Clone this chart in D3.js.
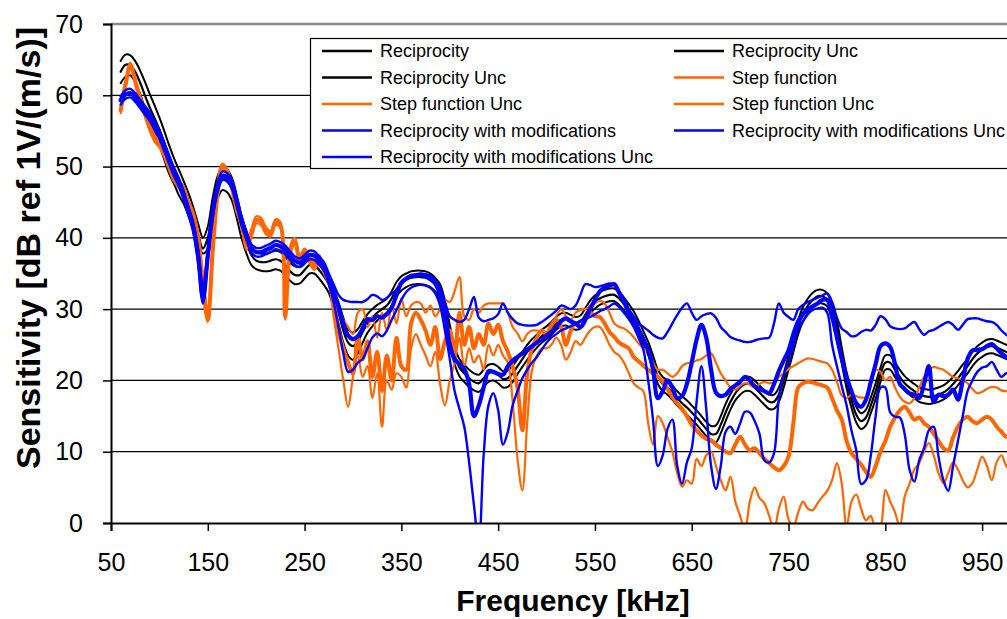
<!DOCTYPE html>
<html><head><meta charset="utf-8">
<script src="https://cdn.jsdelivr.net/npm/d3@7"></script>
<style>body{margin:0;background:#fff}svg{display:block}</style>
</head><body>
<svg id="chart" width="1007" height="619"></svg>
<script>
// Frequency grid (kHz)
const freq = [
 60,65,70,75,80,85,90,95,100,105,110,115,120,125,130,135,140,145,150,155,
 160,165,170,175,180,185,190,195,200,205,210,215,220,225,230,235,240,245,250,255,
 260,265,270,275,280,285,290,295,300,305,310,315,320,325,330,335,340,345,350,355,
 360,365,370,375,380,385,390,395,400,405,410,415,420,425,430,435,440,445,450,455,
 460,465,470,475,480,485,490,495,500,505,510,515,520,525,530,535,540,545,550,555,
 560,565,570,575,580,585,590,595,600,605,610,615,620,625,630,635,640,645,650,655,
 660,665,670,675,680,685,690,695,700,705,710,715,720,725,730,735,740,745,750,755,
 760,765,770,775,780,785,790,795,800,805,810,815,820,825,830,835,840,845,850,855,
 860,865,870,875,880,885,890,895,900,905,910,915,920,925,930,935,940,945,950,955,
 960,965,970,975,980,985,990,995,1000];

const reciprocity = [
 63.3,64.3,64.2,63.3,61.8,60.0,58.3,56.8,55.2,53.3,51.3,49.6,48.0,46.5,44.8,42.8,40.5,38.5,40.0,44.0,
 47.0,48.3,48.0,46.8,44.3,41.5,39.3,37.6,36.8,36.6,36.6,36.8,37.0,36.8,36.2,35.3,34.8,34.8,35.5,36.2,
 36.2,35.5,34.6,33.5,31.5,29.5,27.0,25.3,24.8,25.5,26.8,28.0,28.8,29.5,30.0,30.5,31.5,32.8,33.6,34.1,
 34.4,34.5,34.5,34.4,34.1,33.5,32.5,30.0,26.5,23.5,21.8,21.0,20.3,19.8,19.6,20.3,21.0,21.2,20.8,20.2,
 20.3,21.0,22.0,23.0,24.0,24.8,25.5,26.2,26.7,27.3,28.0,28.5,28.6,28.3,28.0,28.2,29.2,30.3,31.0,31.5,
 31.8,32.0,32.0,31.5,30.7,29.8,28.8,27.5,26.0,24.5,22.5,20.5,19.5,19.0,18.3,17.5,16.8,16.2,15.5,14.8,
 14.0,13.2,12.5,12.5,13.8,15.5,17.0,18.2,19.0,19.5,19.5,19.0,18.3,17.6,17.0,17.0,18.0,20.0,22.5,25.0,
 27.5,29.3,30.5,31.3,31.8,31.8,31.3,29.5,27.3,23.5,20.0,17.3,15.2,14.3,14.8,16.5,18.5,20.8,22.5,22.5,
 21.5,20.5,19.6,19.0,18.5,18.0,17.8,17.7,17.8,18.0,18.3,18.8,19.5,20.3,21.2,22.0,23.0,23.8,24.3,24.7,
 24.8,24.6,24.3,24.0,23.8,23.7,23.6,23.6,23.6];

const reciprocityUncHi = [
 64.8,65.7,65.6,64.8,63.5,61.9,60.2,58.6,56.9,55.0,53.0,51.2,49.6,48.0,46.3,44.3,42.0,40.0,41.6,45.6,
 48.6,49.9,49.6,48.4,45.9,43.1,40.8,39.0,38.0,37.8,37.8,38.0,38.2,38.0,37.4,36.5,36.0,36.0,36.7,37.4,
 37.4,36.7,35.8,34.7,32.8,31.0,28.8,27.2,26.7,27.2,28.3,29.3,30.0,30.6,31.0,31.5,32.5,33.8,34.6,35.0,
 35.3,35.4,35.4,35.3,35.0,34.4,33.5,31.2,27.8,24.7,23.0,22.2,21.5,21.0,20.8,21.5,22.2,22.3,21.9,21.3,
 21.4,22.1,23.0,24.0,25.0,25.8,26.4,27.1,27.6,28.2,28.9,29.4,29.5,29.2,28.9,29.1,30.1,31.2,31.9,32.4,
 32.7,32.9,32.9,32.4,31.6,30.7,29.7,28.4,26.9,25.4,23.5,21.5,20.5,20.0,19.3,18.5,17.8,17.2,16.5,15.8,
 15.0,14.2,13.6,13.7,15.0,16.7,18.1,19.2,20.0,20.5,20.5,20.0,19.3,18.6,18.0,18.0,19.0,21.0,23.5,26.0,
 28.5,30.3,31.5,32.3,32.7,32.7,32.2,30.5,28.3,24.6,21.1,18.4,16.3,15.4,15.9,17.6,19.6,21.8,23.5,23.5,
 22.5,21.5,20.6,20.0,19.5,19.0,18.8,18.7,18.8,19.0,19.3,19.8,20.5,21.3,22.2,23.0,24.0,24.8,25.3,25.7,
 25.8,25.6,25.3,25.0,24.8,24.7,24.6,24.6,24.6];

const reciprocityUncLo = [
 61.7,62.6,62.8,61.8,60.2,58.2,56.4,54.8,53.0,51.0,49.0,47.6,46.0,44.8,43.1,41.3,39.5,37.8,38.5,42.3,
 45.4,46.7,46.4,45.2,42.7,39.9,37.8,36.2,35.6,35.4,35.3,35.4,35.6,35.4,34.8,34.0,33.5,33.6,34.3,35.0,
 35.0,34.3,33.4,32.3,30.2,28.0,25.3,23.5,22.9,23.8,25.3,26.7,27.6,28.4,29.0,29.5,30.5,31.8,32.6,33.1,
 33.4,33.5,33.5,33.4,33.1,32.5,31.4,28.8,25.2,22.3,20.6,19.8,19.1,18.6,18.4,19.1,19.8,20.0,19.6,19.0,
 19.1,19.8,20.9,21.9,22.9,23.8,24.6,25.3,25.8,26.4,27.1,27.6,27.7,27.4,27.1,27.3,28.3,29.4,30.1,30.6,
 30.9,31.1,31.1,30.6,29.8,28.9,27.9,26.6,25.1,23.6,21.5,19.5,18.5,18.0,17.3,16.5,15.8,15.2,14.5,13.8,
 13.0,12.2,11.4,11.3,12.6,14.3,15.9,17.2,18.0,18.5,18.5,18.0,17.3,16.6,16.0,16.0,17.0,19.0,21.5,24.0,
 26.5,28.3,29.5,30.3,30.8,30.8,30.4,28.5,26.3,22.4,18.9,16.2,14.1,13.2,13.7,15.4,17.4,19.8,21.5,21.5,
 20.5,19.5,18.6,18.0,17.5,17.0,16.8,16.7,16.8,17.0,17.3,17.8,18.5,19.3,20.2,21.0,22.0,22.8,23.3,23.7,
 23.8,23.6,23.3,23.0,22.8,22.7,22.6,22.6,22.6];

const stepFunction = [
 57.9,61.5,64.3,62.0,59.5,57.5,55.5,54.0,53.2,51.8,50.0,48.4,47.5,46.8,44.8,43.2,40.0,33.5,28.5,38.0,
 46.0,50.0,49.3,47.0,44.0,42.0,39.0,40.5,42.5,42.3,41.0,40.6,42.2,41.8,29.0,38.0,39.5,37.0,38.0,37.0,
 36.0,37.2,35.5,34.0,31.5,27.0,24.5,22.5,21.0,26.0,23.0,25.5,20.5,24.0,18.5,23.5,20.0,26.0,22.0,21.5,
 28.0,29.5,28.5,27.0,25.0,27.5,23.0,25.5,27.0,24.0,29.5,25.0,27.5,24.5,26.5,25.0,28.0,26.5,27.8,25.5,
 24.0,22.0,19.0,13.0,21.0,24.5,26.0,27.0,26.5,27.8,28.5,27.5,25.0,27.0,28.0,27.5,28.5,29.5,29.0,28.9,
 28.0,26.8,26.1,25.3,24.9,24.5,23.3,22.7,22.1,21.5,21.0,20.5,19.8,18.8,17.7,16.8,16.0,15.0,13.8,13.0,
 12.3,11.8,11.6,11.0,10.5,10.0,9.8,11.0,12.1,11.0,10.2,10.5,9.8,9.0,8.4,7.8,7.4,8.0,9.3,14.0,
 19.0,19.6,19.8,19.7,19.5,19.3,19.0,17.5,15.8,14.5,11.5,9.8,9.0,8.2,7.2,6.5,8.0,10.0,11.5,13.5,
 14.8,15.8,16.3,15.5,14.5,14.8,14.0,13.5,12.5,11.5,10.5,10.2,12.0,13.5,14.5,14.9,14.3,14.0,14.5,14.9,
 14.5,13.5,12.8,12.1,12.5,13.0,12.5,12.0,12.3];

const stepUncHi = [
 58.3,62.0,64.6,62.4,60.0,58.0,56.0,54.5,53.7,52.3,50.5,48.9,48.0,47.3,45.3,43.7,40.5,34.5,30.0,38.8,
 46.5,50.4,49.7,47.5,44.5,42.5,39.8,41.2,43.0,42.8,41.5,41.0,42.6,42.2,30.5,38.8,40.0,37.5,38.5,37.5,
 36.5,37.6,36.0,34.5,32.5,30.0,28.5,27.5,26.5,29.5,30.0,27.5,29.0,26.0,29.5,27.0,30.5,28.0,31.5,29.0,
 30.5,31.0,30.8,29.5,30.5,29.0,30.0,31.3,31.0,32.5,34.5,29.0,28.5,30.0,29.5,30.5,30.8,30.8,30.8,30.8,
 29.5,27.5,26.6,25.5,26.5,27.0,27.0,26.8,26.6,27.5,29.0,30.0,29.0,28.5,29.5,29.9,30.0,30.5,30.8,31.2,
 30.8,29.5,28.0,27.5,27.3,26.8,26.1,25.2,24.5,24.0,22.5,21.5,21.5,21.0,20.5,21.0,22.0,22.4,22.5,22.8,
 23.0,23.5,23.8,22.5,21.0,20.0,19.0,18.7,19.2,19.6,19.4,19.0,19.5,19.8,19.6,19.8,20.5,21.0,21.6,22.0,
 22.4,22.8,23.1,23.0,22.8,22.6,22.4,21.5,19.8,17.9,17.5,18.0,17.8,17.6,17.7,19.5,21.5,21.2,20.0,20.5,
 19.0,17.7,17.0,16.8,17.5,19.0,20.5,21.5,21.9,21.7,21.5,21.0,20.5,20.3,20.1,19.6,18.8,18.2,18.4,18.8,
 19.1,19.0,18.6,18.5,18.8,19.0,18.7,18.5,18.6];

const stepUncLo = [
 57.5,61.0,64.0,61.6,59.0,57.0,55.0,53.5,52.7,51.3,49.5,47.9,47.0,46.3,44.3,42.7,39.5,32.5,28.2,37.3,
 45.5,49.6,48.9,46.5,43.5,41.5,38.3,40.0,42.0,41.8,40.5,40.2,41.8,41.4,28.5,37.5,39.0,36.5,37.5,36.5,
 35.5,36.8,35.0,33.5,29.0,24.5,20.0,16.3,20.5,23.5,20.5,22.0,17.5,21.0,13.5,20.0,18.7,21.0,20.5,19.0,
 24.5,26.5,25.0,23.5,22.0,24.0,19.5,16.5,20.0,22.5,26.0,22.0,24.5,22.5,23.5,21.5,25.0,23.5,25.0,23.5,
 22.5,17.0,9.0,4.6,14.0,21.5,23.5,24.5,24.5,25.0,26.0,25.0,22.9,24.0,25.5,25.0,26.0,27.0,27.5,27.5,
 26.5,25.0,24.0,23.5,22.5,21.0,19.6,19.0,18.5,14.0,11.0,15.0,14.0,12.0,10.0,7.0,5.1,6.0,5.5,9.0,
 8.0,9.5,10.0,8.0,6.0,4.6,6.5,3.0,1.0,-1.0,3.0,5.0,3.5,2.8,1.0,-1.0,2.0,3.7,0.5,-0.5,
 1.5,3.0,2.0,1.8,2.8,3.7,4.5,6.0,8.4,5.5,-0.5,3.0,4.0,2.0,0.4,1.0,-1.0,-0.5,4.6,3.0,
 1.5,-0.5,3.7,5.5,7.5,8.4,10.0,11.2,9.5,7.0,5.6,7.0,8.5,7.5,6.0,5.0,5.6,7.5,9.3,8.0,
 6.0,8.5,9.5,8.0,7.5,9.0,8.5,8.0,8.5];

const reciprocityMod = [
 59.3,60.1,60.3,59.7,58.8,57.9,57.0,55.8,54.5,52.8,51.0,49.3,47.8,46.0,43.8,41.5,37.5,31.5,37.5,43.5,
 47.0,48.7,48.5,47.5,45.0,42.3,40.3,38.5,38.0,38.0,38.3,38.6,39.0,38.8,38.3,37.5,36.8,36.5,37.0,37.6,
 37.5,36.8,36.0,34.5,32.3,30.3,28.0,26.3,25.8,26.2,27.3,28.6,28.5,29.0,28.8,29.3,30.2,32.0,33.7,34.3,
 34.6,34.7,34.8,34.6,34.2,33.6,32.0,29.5,25.0,23.0,22.3,21.6,19.5,15.0,16.5,19.0,21.3,21.2,20.9,20.8,
 22.0,22.8,23.3,23.8,24.3,24.8,25.3,25.8,26.3,26.8,27.5,28.3,28.7,28.3,28.0,27.5,28.5,30.0,31.3,32.5,
 33.0,33.3,33.5,32.3,31.0,29.5,28.5,27.0,25.8,24.3,21.5,17.5,18.5,20.0,19.0,17.5,17.8,19.5,22.5,25.7,
 27.8,26.0,21.5,18.3,17.8,18.0,18.8,19.3,19.8,20.5,20.0,19.2,18.8,18.5,18.2,19.5,21.3,22.8,24.2,26.5,
 28.3,29.3,30.0,30.4,30.8,31.3,31.3,29.0,26.0,23.0,20.5,18.5,16.8,16.3,17.3,19.8,22.3,24.8,25.2,24.7,
 22.3,19.5,18.8,18.2,18.0,17.5,19.5,22.0,17.0,18.0,17.8,18.0,18.7,17.3,20.0,23.0,24.2,24.3,24.4,24.8,
 25.1,24.5,23.8,23.3,23.0,23.3,23.6,23.5,23.4];

const reciprocityModUncHi = [
 59.8,60.7,60.9,60.3,59.4,58.5,57.6,56.4,55.1,53.4,51.6,49.9,48.4,46.6,44.4,42.2,38.5,33.0,38.3,44.2,
 47.6,49.3,49.1,48.1,45.6,42.9,40.9,39.1,38.6,38.6,38.9,39.2,39.6,39.4,38.9,38.1,37.4,37.1,37.6,38.2,
 38.1,37.4,36.6,35.0,33.5,32.0,31.3,31.1,31.0,31.0,31.0,31.4,32.0,31.8,31.3,31.6,32.2,32.7,33.5,34.3,
 34.8,34.9,35.0,34.9,34.7,34.0,33.0,31.0,29.0,28.5,28.2,28.5,30.0,31.7,28.8,28.3,28.5,28.7,29.3,30.8,
 29.5,28.6,28.0,27.8,27.7,27.7,27.8,28.2,28.7,29.2,29.8,30.5,30.3,30.0,30.5,32.0,33.5,33.4,33.1,33.2,
 33.4,33.6,33.4,32.5,31.5,30.0,29.0,28.0,27.5,27.0,26.4,26.0,25.9,26.8,28.0,29.2,30.2,30.8,29.5,28.5,
 29.0,29.3,29.4,28.8,27.5,26.8,26.1,25.8,25.6,25.4,25.4,25.6,25.8,25.9,26.0,28.0,30.8,29.5,28.9,28.5,
 30.0,30.6,31.0,31.3,31.6,31.9,32.2,31.0,28.8,27.3,26.8,26.2,26.3,26.8,27.1,27.0,27.8,29.0,28.6,27.6,
 27.3,27.2,27.3,27.8,28.2,27.2,26.4,26.9,27.1,27.5,27.9,28.2,27.8,27.1,27.8,28.6,28.7,28.7,28.5,28.3,
 28.2,27.8,27.0,26.4,26.0,25.8,25.6,25.5,25.4];

const reciprocityModUncLo = [
 58.7,59.5,59.7,59.1,58.2,57.3,56.4,55.2,53.9,52.2,50.4,48.7,47.2,45.4,43.2,40.8,36.5,30.8,36.8,42.8,
 46.4,48.1,47.9,46.9,44.4,41.7,39.7,37.9,37.4,37.4,37.7,38.0,38.4,38.2,37.7,36.9,36.2,35.9,36.4,37.0,
 36.9,36.2,35.4,33.5,31.0,27.5,23.8,21.2,21.5,22.5,23.0,24.5,26.0,26.6,26.2,27.0,28.5,29.9,31.3,32.4,
 33.0,33.3,33.4,33.3,33.0,32.2,30.5,27.0,23.0,18.5,16.0,13.5,8.5,2.5,-3.0,9.5,16.5,18.2,15.8,11.0,
 12.8,16.5,18.5,20.3,21.5,22.5,23.3,24.3,25.3,26.0,26.5,27.0,27.3,27.6,28.0,28.4,28.7,28.9,29.3,29.7,
 30.0,30.4,30.8,30.3,29.5,28.6,27.5,26.0,24.3,20.0,14.5,8.0,9.5,13.2,14.5,8.0,5.5,8.5,10.5,17.0,
 22.0,16.0,8.0,4.8,8.0,12.8,13.5,12.5,14.0,15.6,15.5,14.3,12.5,8.8,8.5,9.8,17.5,20.8,22.5,24.8,
 27.2,28.3,29.3,29.9,30.1,30.2,29.5,25.0,22.0,19.2,16.5,13.0,10.2,5.5,6.0,9.5,15.0,19.0,19.0,15.5,
 14.9,14.8,12.5,7.5,5.8,8.8,10.5,13.0,13.5,9.3,6.0,4.5,8.0,11.5,15.0,18.5,20.0,21.2,21.8,22.0,
 22.6,21.5,20.5,21.0,20.8,20.6,20.6,20.8,20.9];

const seriesNames = ["Reciprocity","Reciprocity Unc","Reciprocity Unc",
  "Step function","Step function Unc","Step function Unc",
  "Reciprocity with modifications","Reciprocity with modifications Unc","Reciprocity with modifications Unc"];
const seriesValues = [reciprocity, reciprocityUncHi, reciprocityUncLo,
  stepFunction, stepUncHi, stepUncLo,
  reciprocityMod, reciprocityModUncHi, reciprocityModUncLo];
const xTicks = [50,150,250,350,450,550,650,750,850,950];
const yTicks = [0,10,20,30,40,50,60,70];

// styling (kept separate from data)
const seriesColors = ["#000000","#000000","#000000","#FF6600","#FF6600","#FF6600","#0000FF","#0000FF","#0000FF"];
const seriesWidths = [2.2,2,2,4,2.2,2.2,4.2,2.4,2.4];

seriesValues.forEach((a,i)=>{ if(a.length!==freq.length) throw new Error("len "+i+" "+a.length); });

const svg = d3.select("#chart");
const FONT = "'Liberation Sans', Arial, sans-serif";
const x = d3.scaleLinear().domain([50,1000]).range([111, 1030.5]);
const y = d3.scaleLinear().domain([0,70]).range([523, 24]);

// gridlines
svg.append("g").selectAll("line").data(yTicks.filter(t=>t>0 && t<70)).join("line")
  .attr("x1",111).attr("x2",1007).attr("y1",d=>y(d)).attr("y2",d=>y(d))
  .attr("stroke","#000").attr("stroke-width",1.2);
svg.append("line").attr("x1",111).attr("x2",1007).attr("y1",y(70)).attr("y2",y(70))
  .attr("stroke","#8a8a8a").attr("stroke-width",2.5);

// clip
svg.append("defs").append("clipPath").attr("id","plotclip").append("rect")
  .attr("x",111).attr("y",y(70)).attr("width",930).attr("height",y(0)-y(70));

const line = d3.line().x((d,i)=>x(freq[i])).y(d=>y(d)).curve(d3.curveCatmullRom.alpha(0.5));
const gLines = svg.append("g").attr("clip-path","url(#plotclip)");
seriesValues.forEach((vals,i)=>{
  gLines.append("path").datum(vals).attr("d",line)
    .attr("fill","none").attr("stroke",seriesColors[i]).attr("stroke-width",seriesWidths[i])
    .attr("stroke-linejoin","round").attr("stroke-linecap","round");
});

// axes
const yAxis = d3.axisLeft(y).tickValues(yTicks).tickSize(8).tickPadding(20).tickFormat(d3.format("d"));
const gy = svg.append("g").attr("transform","translate(111,0)").call(yAxis);
gy.select(".domain").attr("stroke","#000").attr("stroke-width",2);
gy.selectAll(".tick line").attr("stroke","#000").attr("stroke-width",1.5);
gy.selectAll("text").attr("font-family",FONT).attr("font-size",25).attr("fill","#000");

const xAxis = d3.axisBottom(x).tickValues(xTicks).tickSize(8).tickPadding(22).tickFormat(d3.format("d"));
const gx = svg.append("g").attr("transform","translate(0,523)").call(xAxis);
gx.select(".domain").attr("stroke","#000").attr("stroke-width",2);
gx.selectAll(".tick line").attr("stroke","#000").attr("stroke-width",1.5);
gx.selectAll("text").attr("font-family",FONT).attr("font-size",25).attr("fill","#000");

// axis titles
svg.append("text").attr("x",573).attr("y",611).attr("text-anchor","middle")
  .attr("font-family",FONT).attr("font-weight","bold").attr("font-size",30).text("Frequency [kHz]");
svg.append("text").attr("transform","translate(40,248) rotate(-90)").attr("text-anchor","middle")
  .attr("font-family",FONT).attr("font-weight","bold").attr("font-size",34).text("Sensitivity [dB ref 1V/(m/s)]");

// legend
const lg = svg.append("g");
lg.append("rect").attr("x",310.5).attr("y",38.5).attr("width",720).attr("height",130)
  .attr("fill","#fff").attr("stroke","#000").attr("stroke-width",1.2);
seriesNames.forEach((name,i)=>{
  const col = i%2, row = Math.floor(i/2);
  const x0 = col ? 674 : 322, ty = 51 + row*26.5;
  lg.append("line").attr("x1",x0).attr("x2",x0+50).attr("y1",ty).attr("y2",ty)
    .attr("stroke",seriesColors[i]).attr("stroke-width",2.5);
  lg.append("text").attr("x",x0+58).attr("y",ty).attr("dy","0.35em")
    .attr("font-family",FONT).attr("font-size",18).attr("fill","#000").text(name);
});
</script>
</body></html>
